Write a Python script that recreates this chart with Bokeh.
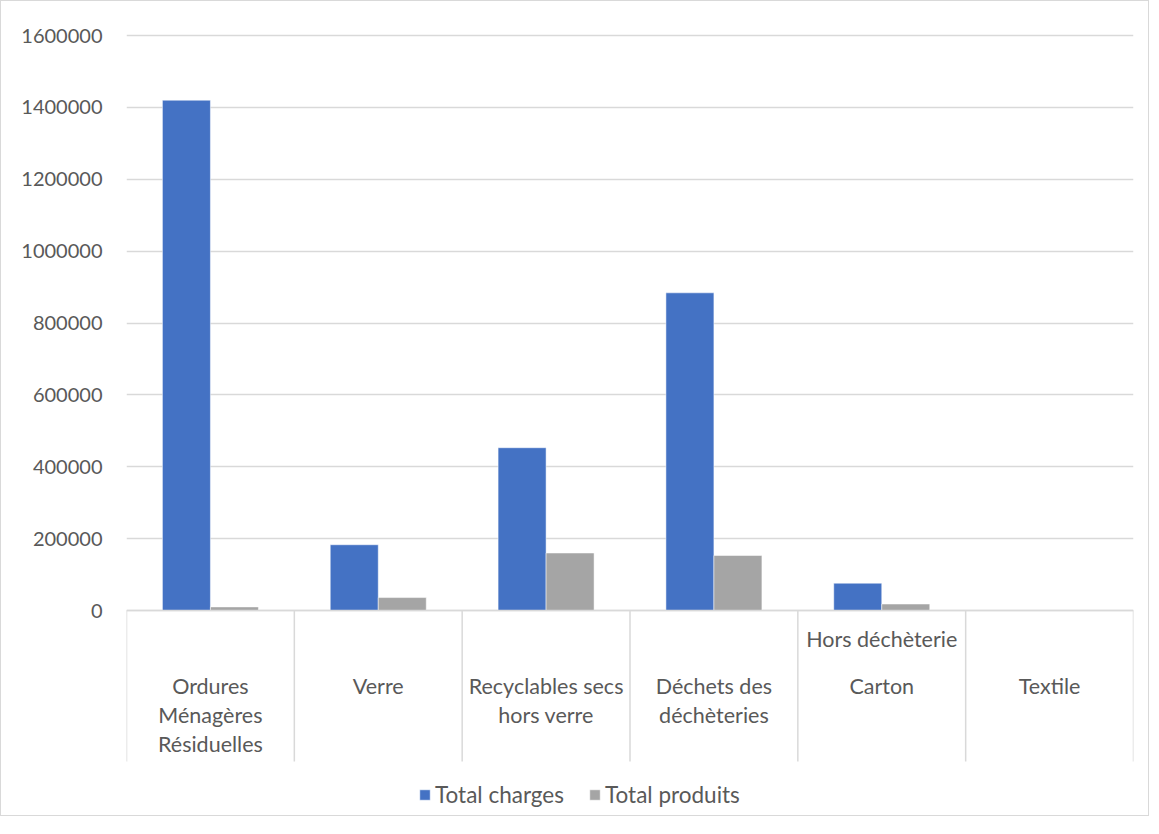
from bokeh.plotting import figure
from bokeh.models import (ColumnDataSource, FactorRange, Range1d, FixedTicker,
                          BasicTickFormatter, Legend, LegendItem, Span)
from bokeh.transform import dodge
from bokeh.core.properties import value
from bokeh.embed import file_html
from bokeh.resources import INLINE

# ---- data ----
categories = ["Ordures Ménagères Résiduelles", "Verre", "Recyclables secs hors verre",
              "Déchets des déchèteries", "Carton", "Textile"]
category_labels = ["Ordures\nMénagères\nRésiduelles", "Verre", "Recyclables secs\nhors verre",
                   "Déchets des\ndéchèteries", "Carton", "Textile"]
group_label_cats = ["Carton"]
group_labels = ["Hors déchèterie"]
total_charges = [1420000, 183000, 453000, 884000, 76000, 0]
total_produits = [10000, 36000, 160000, 153000, 18000, 0]
y_ticks = [0, 200000, 400000, 600000, 800000, 1000000, 1200000, 1400000, 1600000]

# ---- layout helpers ----
FONT = "Lato"
TXT = "#595959"
GRID = "#d9d9d9"
PX_PER_UNIT = 575 / 1600000.0   # vertical scale of the plot area


def px(n):
    """convert a pixel distance to y data units"""
    return n / PX_PER_UNIT


src = ColumnDataSource(dict(cat=categories, labels=category_labels,
                            charges=total_charges, produits=total_produits))

p = figure(width=1149, height=816, output_backend="svg", toolbar_location=None,
           x_range=FactorRange(factors=categories, range_padding=0),
           y_range=Range1d(-px(207), px(599)),
           x_axis_location=None, min_border_left=125, min_border_right=17,
           min_border_top=10, min_border_bottom=0)
p.styles = {"border": "1px solid #d9d9d9"}
p.outline_line_color = None
p.background_fill_color = "white"
p.border_fill_color = "white"
p.xgrid.visible = False

yax = p.yaxis[0]
yax.ticker = FixedTicker(ticks=y_ticks)
yax.formatter = BasicTickFormatter(use_scientific=False)
yax.axis_line_color = None
yax.major_tick_line_color = None
yax.minor_tick_line_color = None
yax.major_tick_out = 0
yax.major_tick_in = 0
yax.major_label_standoff = 24
yax.major_label_text_font = FONT
yax.major_label_text_font_size = "20px"
yax.major_label_text_color = TXT

p.ygrid.ticker = FixedTicker(ticks=y_ticks)
p.ygrid.grid_line_color = GRID
p.ygrid.grid_line_width = 1.5

bw = 0.286
r1 = p.vbar(x=dodge("cat", -bw / 2, range=p.x_range), top="charges", width=bw,
            source=src, fill_color="#4472c4", line_color="white", line_width=0.5)
r2 = p.vbar(x=dodge("cat", bw / 2, range=p.x_range), top="produits", width=bw,
            source=src, fill_color="#a5a5a5", line_color="white", line_width=0.5)

# axis line
p.add_layout(Span(location=0, dimension="width", line_color=GRID, line_width=1.5))

# category separators
p.segment(x0=dodge("cat", -0.5, range=p.x_range), x1=dodge("cat", -0.5, range=p.x_range),
          y0=0, y1=-px(151), source=src, line_color=GRID, line_width=1.5)
last = ColumnDataSource(dict(cat=[categories[-1]]))
p.segment(x0=dodge("cat", 0.5, range=p.x_range), x1=dodge("cat", 0.5, range=p.x_range),
          y0=0, y1=-px(151), source=last, line_color=GRID, line_width=1.5)

# category labels
p.text(x="cat", y=-px(62), text="labels", source=src, text_font=value(FONT),
       text_font_size=value("21.5px"), text_color=TXT, text_align="center",
       text_baseline="top", text_line_height=1.12)
gsrc = ColumnDataSource(dict(cat=group_label_cats, labels=group_labels))
p.text(x="cat", y=-px(15), text="labels", source=gsrc, text_font=value(FONT),
       text_font_size=value("21.5px"), text_color=TXT, text_align="center",
       text_baseline="top")

legend = Legend(items=[LegendItem(label="Total charges", renderers=[r1]),
                       LegendItem(label="Total produits", renderers=[r2])],
                orientation="horizontal", location=(292, 9),
                label_text_font=FONT, label_text_font_size="22.5px",
                label_text_color=TXT, glyph_width=13, glyph_height=13,
                label_standoff=4, spacing=24, padding=0, margin=0,
                border_line_color=None, background_fill_alpha=0,
                label_height=20)
p.add_layout(legend)

open("out.html", "w").write(file_html(p, INLINE))
